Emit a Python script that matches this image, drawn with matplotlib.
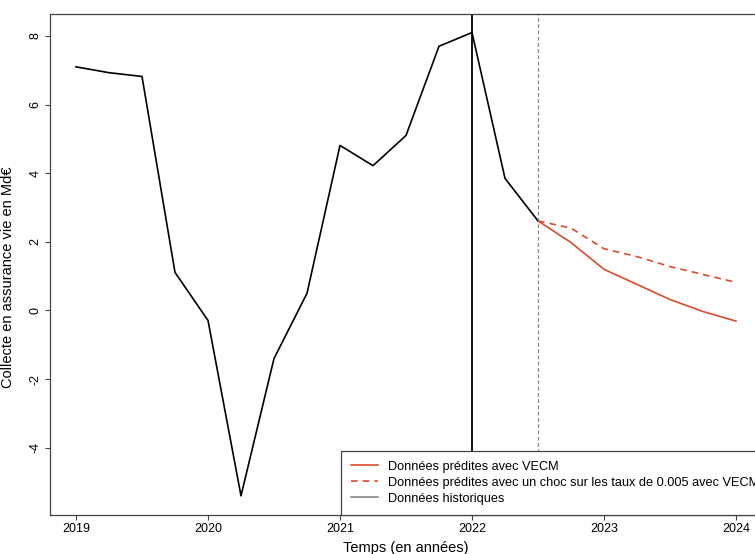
import numpy as np
import matplotlib
matplotlib.use('Agg')
import matplotlib.pyplot as plt
from matplotlib.lines import Line2D

plt.rcParams['font.family'] = ['Liberation Sans', 'DejaVu Sans']

# historical quarterly data
hist_t = [2019.0, 2019.25, 2019.5, 2019.75, 2020.0, 2020.25, 2020.5, 2020.75,
          2021.0, 2021.25, 2021.5, 2021.75, 2022.0, 2022.25, 2022.5]
hist_y = [7.1, 6.93, 6.82, 1.11, -0.29, -5.4, -1.4, 0.5,
          4.81, 4.22, 5.1, 7.7, 8.1, 3.85, 2.61]

# forecasts
fc_t = [2022.5, 2022.75, 2023.0, 2023.25, 2023.5, 2023.75, 2024.0]
fc_vecm = [2.61, 1.98, 1.2, 0.76, 0.32, -0.03, -0.31]
fc_choc = [2.61, 2.4, 1.8, 1.57, 1.28, 1.05, 0.82]

xticks = [2019, 2020, 2021, 2022, 2023, 2024]
yticks = [-4, -2, 0, 2, 4, 6, 8]

red = '#DD4B2E'
frame = '#444444'

fig = plt.figure(figsize=(7.55, 5.54), dpi=100)
ax = fig.add_axes([49.6/755, 1-515/554, 712.8/755, 501/554])

ax.plot(fc_t, fc_vecm, color=red, lw=1.2)
ax.plot(fc_t, fc_choc, color=red, lw=1.2, ls=(0, (4, 3)))
ax.plot(hist_t, hist_y, color='black', lw=1.2)
ax.axvline(2022, color='black', lw=1.3)
ax.axvline(2022.5, color='#888888', lw=0.9, ls=(0, (3, 2)))

ax.set_xlim(2018.8, 2024.2)
ax.set_ylim(-5.96, 8.64)
ax.set_xticks(xticks)
ax.set_yticks(yticks)
ax.set_xticklabels([str(t) for t in xticks], fontsize=9)
ax.set_yticklabels([str(t) for t in yticks], fontsize=9, rotation=90, va='center')
ax.tick_params(direction='out', length=3.5, width=0.8, color=frame, pad=2.5)
for s in ax.spines.values():
    s.set_color(frame)
    s.set_linewidth(0.9)

ax.set_xlabel('Temps (en années)', fontsize=10.5, labelpad=4)
fig.text(8/755, 0.5, 'Collecte en assurance vie en Md€', rotation=90,
         ha='center', va='center', fontsize=10.5)

handles = [Line2D([], [], color=red, lw=1.2),
           Line2D([], [], color=red, lw=1.2, ls=(0, (4, 3))),
           Line2D([], [], color='#888888', lw=1.2)]
labels = ['Données prédites avec VECM',
          'Données prédites avec un choc sur les taux de 0.005 avec VECM',
          'Données historiques']
leg = ax.legend(handles, labels, loc='lower left',
                bbox_to_anchor=((341-49.6)/712.8, 0), fontsize=9.15,
                frameon=True, fancybox=False, edgecolor=frame, framealpha=1,
                handlelength=2.1, borderpad=0.8, labelspacing=0.32,
                handletextpad=0.8, borderaxespad=0)
leg.get_frame().set_linewidth(0.9)

fig.savefig('out.png', dpi=100)
